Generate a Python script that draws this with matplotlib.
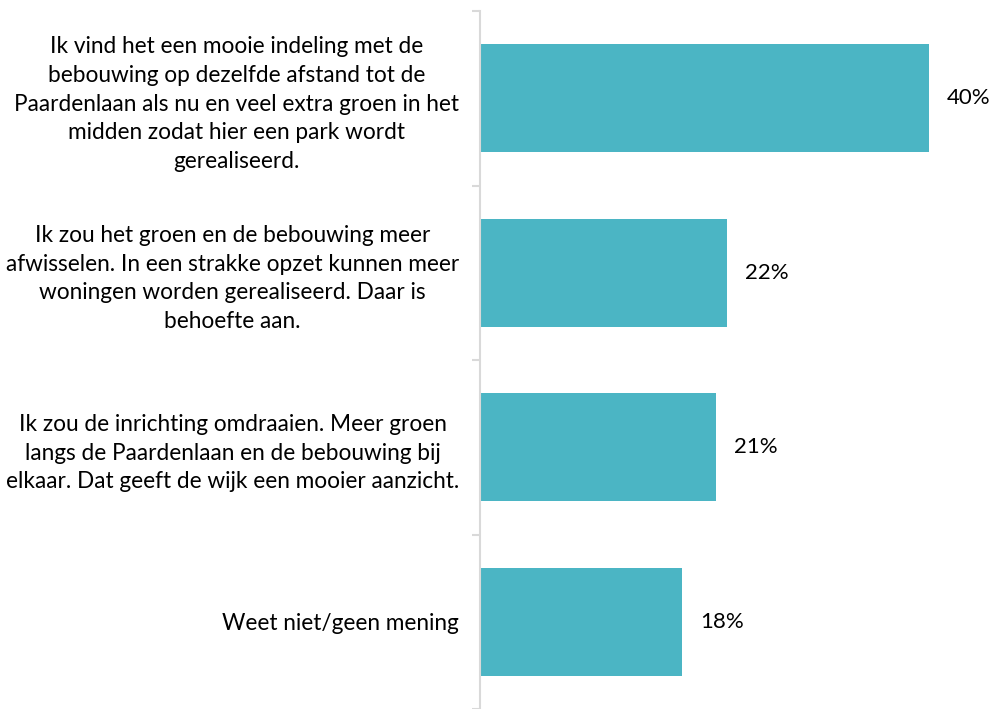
import matplotlib.pyplot as plt
import numpy as np

labels = [
    "Ik vind het een mooie indeling met de\nbebouwing op dezelfde afstand tot de\nPaardenlaan als nu en veel extra groen in het\nmidden zodat hier een park wordt\ngerealiseerd.",
    "Ik zou het groen en de bebouwing meer\nafwisselen. In een strakke opzet kunnen meer\nwoningen worden gerealiseerd. Daar is\nbehoefte aan.",
    "Ik zou de inrichting omdraaien. Meer groen\nlangs de Paardenlaan en de bebouwing bij\nelkaar. Dat geeft de wijk een mooier aanzicht.",
    "Weet niet/geen mening",
]
values = [40, 22, 21, 18]

plt.rcParams['font.family'] = ['Lato', 'DejaVu Sans']

fig = plt.figure(figsize=(9.92, 7.09), dpi=100)
ax = fig.add_axes([480/992, 0/709, 1 - 480/992, 698/709])

y = np.arange(len(values))
bars = ax.barh(y, values, height=0.62, color='#4BB5C4')
ax.set_xlim(0, (992 - 480) / 11.22)
ax.set_ylim(3.5, -0.5)

for b, v in zip(bars, values):
    ax.annotate(f"{v}%", (b.get_width(), b.get_y() + b.get_height() / 2),
                xytext=(13, 0), textcoords='offset points',
                va='center', ha='left', fontsize=16, color='#000000')

ax.set_yticks(y)
ax.set_yticklabels(labels, fontsize=16.3, linespacing=1.45)
for t in ax.get_yticklabels():
    t.set_multialignment('center')
ax.tick_params(axis='y', which='major', length=0, pad=15)
ax.set_yticks(np.arange(-0.5, 4, 1), minor=True)
ax.tick_params(axis='y', which='minor', length=6, width=1.5, color='#D9D9D9')
ax.set_xticks([])

for s in ['top', 'right', 'bottom']:
    ax.spines[s].set_visible(False)
ax.spines['left'].set_color('#D9D9D9')
ax.spines['left'].set_linewidth(1.5)

fig.savefig('out.png', dpi=100)
